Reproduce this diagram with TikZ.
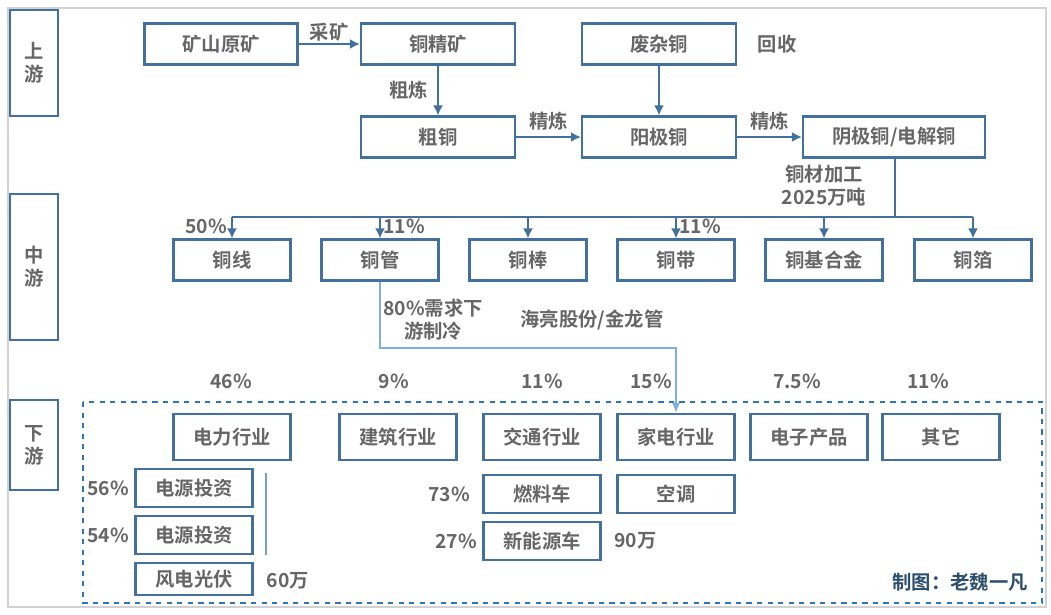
\documentclass[tikz,border=0pt]{standalone}
\usepackage{fontspec}
\setmainfont{Noto Sans CJK SC}[BoldFont={Noto Sans CJK SC Bold}]
\usepackage{xcolor}
\definecolor{boxLine}{HTML}{41719C}
\definecolor{dashLine}{HTML}{2E75B6}
\definecolor{textGray}{HTML}{666666}
\definecolor{thinLine}{HTML}{7FAEDB}
\usetikzlibrary{positioning,calc,arrows.meta}
\tikzset{%
  stageBox/.style={%
    rectangle,
    draw=boxLine,
    line width=1.2pt,
    minimum width=2.3cm,
    minimum height=0.82cm,
    font=\fontsize{11}{13}\selectfont\bfseries,
    text=textGray,
    align=center
  },
  sideBox/.style={%
    rectangle,
    draw=boxLine,
    line width=1.2pt,
    minimum width=0.96cm,
    font=\fontsize{11}{13}\selectfont\bfseries,
    text=textGray,
    align=center
  },
  arrowLine/.style={%
    -{Latex[length=2mm,width=2mm]},
    line width=1.1pt,
    color=boxLine
  },
  noteText/.style={%
    font=\fontsize{11}{13}\selectfont\bfseries,
    text=textGray,
    align=center,
    inner sep=1pt
  }
}
\begin{document}
\begin{tikzpicture}[x=0.02cm,y=-0.02cm]
            % frame
            \useasboundingbox (0,0) rectangle (1051,615);
            \draw[gray!35, line width=0.8pt] (8,8) rectangle (1046,607);

            % stage labels
            \node[sideBox, minimum height=2.12cm] (up) at (34,63) {上\\游};
            \node[sideBox, minimum height=2.92cm] (mid) at (34,267) {中\\游};
            \node[sideBox, minimum height=1.8cm] (down) at (34,445) {下\\游};

            % upstream
            \node[stageBox, minimum width=3.06cm] (ore) at (221,44) {矿山原矿};
            \node[stageBox, minimum width=3.08cm] (conc) at (438,44) {铜精矿};
            \node[stageBox, minimum width=3.08cm] (scrap) at (659,44) {废杂铜};
            \node[noteText] (recycle) at (777,44) {回收};
            \node[stageBox, minimum width=3.08cm] (blister) at (438,137) {粗铜};
            \node[stageBox, minimum width=3.08cm] (anode) at (659,137) {阳极铜};
            \node[stageBox, minimum width=3.64cm] (cathode) at (894,137) {阴极铜/电解铜};

            \draw[arrowLine] (ore) -- node[noteText, above] {采矿} (conc);
            \draw[arrowLine] (conc) -- node[noteText, left=4pt] {粗炼} (blister);
            \draw[arrowLine] (scrap) -- (anode);
            \draw[arrowLine] (blister) -- node[noteText, above=2pt] {精炼} (anode);
            \draw[arrowLine] (anode) -- node[noteText, above=2pt] {精炼} (cathode);
            \node[noteText] (proc) at (824,186) {铜材加工\\2025万吨};

            % midstream
            \foreach \name/\txt/\x in {wire/铜线/232, tube/铜管/380, rod/铜棒/528,
                strip/铜带/676, alloy/铜基合金/824, foil/铜箔/973}
                \node[stageBox, minimum width=2.34cm] (\name) at (\x,260) {\txt};
            \coordinate (bus) at (895,217);
            \draw[boxLine, line width=1.1pt] (cathode.south -| bus) -- (bus);
            \draw[boxLine, line width=1.1pt] (wire.north |- bus) -- (foil.north |- bus);
            \foreach \name in {wire,tube,rod,strip,alloy,foil}
                \draw[arrowLine] (\name.north |- bus) -- (\name.north);
            \node[noteText] at (206,226) {50\%};
            \node[noteText] at (404,226) {11\%};
            \node[noteText] at (700,226) {11\%};

            \node[noteText] (cool) at (433,320) {80\%需求下\\游制冷};
            \node[noteText] (firm) at (592,320) {海亮股份/金龙管};

            % downstream
            \draw[dashLine, dashed, line width=1.1pt] (83,402) rectangle (1042,603);
            \foreach \name/\txt/\x in {power/电力行业/232, build/建筑行业/398,
                traffic/交通行业/542, home/家电行业/676, elec/电子产品/809, other/其它/941}
                \node[stageBox, minimum width=2.34cm, minimum height=0.92cm] (\name) at (\x,437) {\txt};
            \foreach \txt/\x in {46\%/231, 9\%/394, 11\%/542, 15\%/651, 7.5\%/797, 11\%/928}
                \node[noteText] at (\x,381) {\txt};
            \coordinate (bendA) at (380,348);
            \draw[-{Latex[length=2mm,width=1.6mm]}, thinLine, line width=0.8pt]
                (tube.south) -- (bendA) -| (home.north);

            \node[stageBox, minimum width=2.34cm, minimum height=0.76cm] (src1) at (194,488) {电源投资};
            \node[stageBox, minimum width=2.34cm, minimum height=0.76cm] (src2) at (194,535) {电源投资};
            \node[stageBox, minimum width=2.34cm, minimum height=0.64cm] (wind) at (194,579) {风电光伏};
            \draw[thinLine!80!boxLine, line width=1.2pt] (266,473) -- (266,555);
            \node[noteText, left=2pt of src1] {56\%};
            \node[noteText, left=2pt of src2] {54\%};
            \node[noteText] at (288,581) {60万};

            \node[stageBox, minimum width=2.34cm, minimum height=0.76cm] (fuel) at (542,494) {燃料车};
            \node[stageBox, minimum width=2.34cm, minimum height=0.76cm] (ev) at (542,541) {新能源车};
            \node[stageBox, minimum width=2.34cm, minimum height=0.76cm] (ac) at (676,494) {空调};
            \node[noteText, left=6pt of fuel] {73\%};
            \node[noteText, left=2pt of ev] {27\%};
            \node[noteText, right=6pt of ev] {90万};

            \node[font=\fontsize{11}{13}\selectfont\bfseries, text=boxLine!70!black] (credit) at (960,582) {制图：老魏一凡};
        \end{tikzpicture}
\end{document}
